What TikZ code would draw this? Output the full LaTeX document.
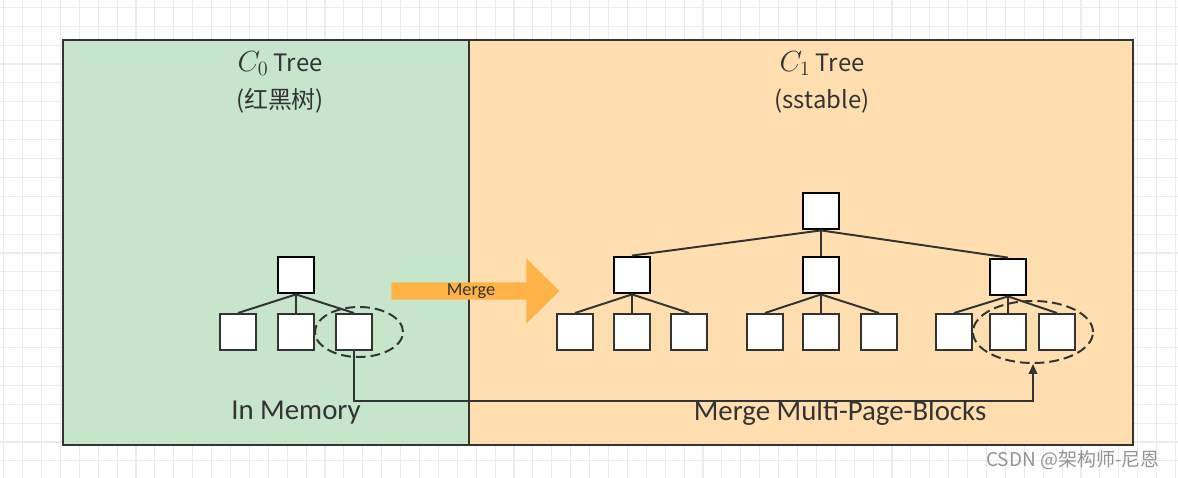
\documentclass[tikz,border=0pt]{standalone}
\usepackage{fontspec}
\setmainfont{Carlito}
\newfontfamily\cjkfont{Noto Sans CJK SC}
\usetikzlibrary{arrows.meta,shapes.geometric,shapes.arrows}

\definecolor{memgreen}{RGB}{199,229,202}
\definecolor{diskorange}{RGB}{255,223,176}
\definecolor{mergeorange}{RGB}{255,179,71}
\definecolor{edgegray}{RGB}{51,51,51}
\definecolor{gridgray}{RGB}{236,236,236}

\newcommand{\mathtitle}[1]{{\fontsize{21}{26}\selectfont$#1$}}

\begin{document}
\begin{tikzpicture}[x=0.025cm, y=-0.025cm,
	page/.style={draw=edgegray, line width=1.4pt, fill=white, minimum size=0.9cm, inner sep=0pt},
	rootpage/.style={page, draw=black, line width=2pt},
	link/.style={draw=edgegray, line width=1.4pt},
	pagegroup/.style={ellipse, draw=edgegray, line width=1.4pt, dash pattern=on 7pt off 3.5pt, inner sep=0pt},
	frame/.style={draw=edgegray, line width=1.8pt},
	caption/.style={text=edgegray, font=\fontsize{20.5}{24}\selectfont},
	title/.style={text=edgegray, font=\cjkfont\fontsize{17}{26.3}\selectfont, align=center}]
		% Background grid
		\useasboundingbox (0,0) rectangle (1178,478);
		\fill[white] (0,0) rectangle (1178,478);
		\foreach \gx in {3.7,22.6,...,1178} \draw[gridgray, line width=0.8pt] (\gx,0) -- (\gx,478);
		\foreach \gy in {7.3,26.2,...,478} \draw[gridgray, line width=0.8pt] (0,\gy) -- (1178,\gy);
		% Memory and disk components
		\filldraw[frame, fill=memgreen] (63,40) rectangle (469,445);
		\filldraw[frame, fill=diskorange] (469,40) rectangle (1133,445);
		\node[title] (ctitle0) at (280,82) {\mathtitle{C_0} Tree\\(红黑树)};
		\node[title] (ctitle1) at (822,82) {\mathtitle{C_1} Tree\\(sstable)};
		% C0 tree
		\node[rootpage] (l0) at (296,275) {};
		\node[page] (l1) at (238,332) {};
		\node[page] (l2) at (296,332) {};
		\node[page] (l3) at (354,332) {};
		\draw[link] (l0.south) -- (l1.north);
		\draw[link] (l0.south) -- (l2.north);
		\draw[link] (l0.south) -- (l3.north);
		\node[pagegroup, minimum width=2.2cm, minimum height=1.25cm] (memgroup) at (359,332) {};
		% C1 tree
		\node[rootpage] (r0) at (821,211) {};
		\node[rootpage] (r1) at (632,275) {};
		\node[rootpage] (r2) at (821,275) {};
		\node[rootpage] (r3) at (1008,277) {};
		\draw[link] (r0.south) -- (r1.north);
		\draw[link] (r0.south) -- (r2.north);
		\draw[link] (r0.south) -- (r3.north);
		\node[page] (r11) at (575,332) {};
		\node[page] (r12) at (632,332) {};
		\node[page] (r13) at (689,332) {};
		\node[page] (r21) at (765,332) {};
		\node[page] (r22) at (821,332) {};
		\node[page] (r23) at (879,332) {};
		\node[page] (r31) at (954,332) {};
		\node[page] (r32) at (1008,332) {};
		\node[page] (r33) at (1057,332) {};
		\draw[link] (r1.south) -- (r11.north);
		\draw[link] (r1.south) -- (r12.north);
		\draw[link] (r1.south) -- (r13.north);
		\draw[link] (r2.south) -- (r21.north);
		\draw[link] (r2.south) -- (r22.north);
		\draw[link] (r2.south) -- (r23.north);
		\draw[link] (r3.south) -- (r31.north);
		\draw[link] (r3.south) -- (r32.north);
		\draw[link] (r3.south) -- (r33.north);
		\node[pagegroup, minimum width=3cm, minimum height=1.55cm] (diskgroup) at (1033,332) {};
		% Merge
		\node[single arrow, fill=mergeorange, minimum height=4.2cm, minimum width=1.625cm,
			single arrow head extend=0.54cm, single arrow tip angle=89, inner sep=0pt,
			text=edgegray, font=\fontsize{13}{15}\selectfont] (mergearrow) at (471,291) {Merge};
		\draw[link, -{Triangle[length=7pt, width=6pt]}] (l3.south) -- ++(0,50) -| (diskgroup.south);
		\node[caption] (memlabel) at (296,413) {In Memory};
		\node[caption] (disklabel) at (840,413) {Merge Multi-Page-Blocks};
		\node[text=gray!85, font=\cjkfont\fontsize{13.5}{16}\selectfont] (mark) at (1073,460) {CSDN @架构师-尼恩};
	\end{tikzpicture}
\end{document}
